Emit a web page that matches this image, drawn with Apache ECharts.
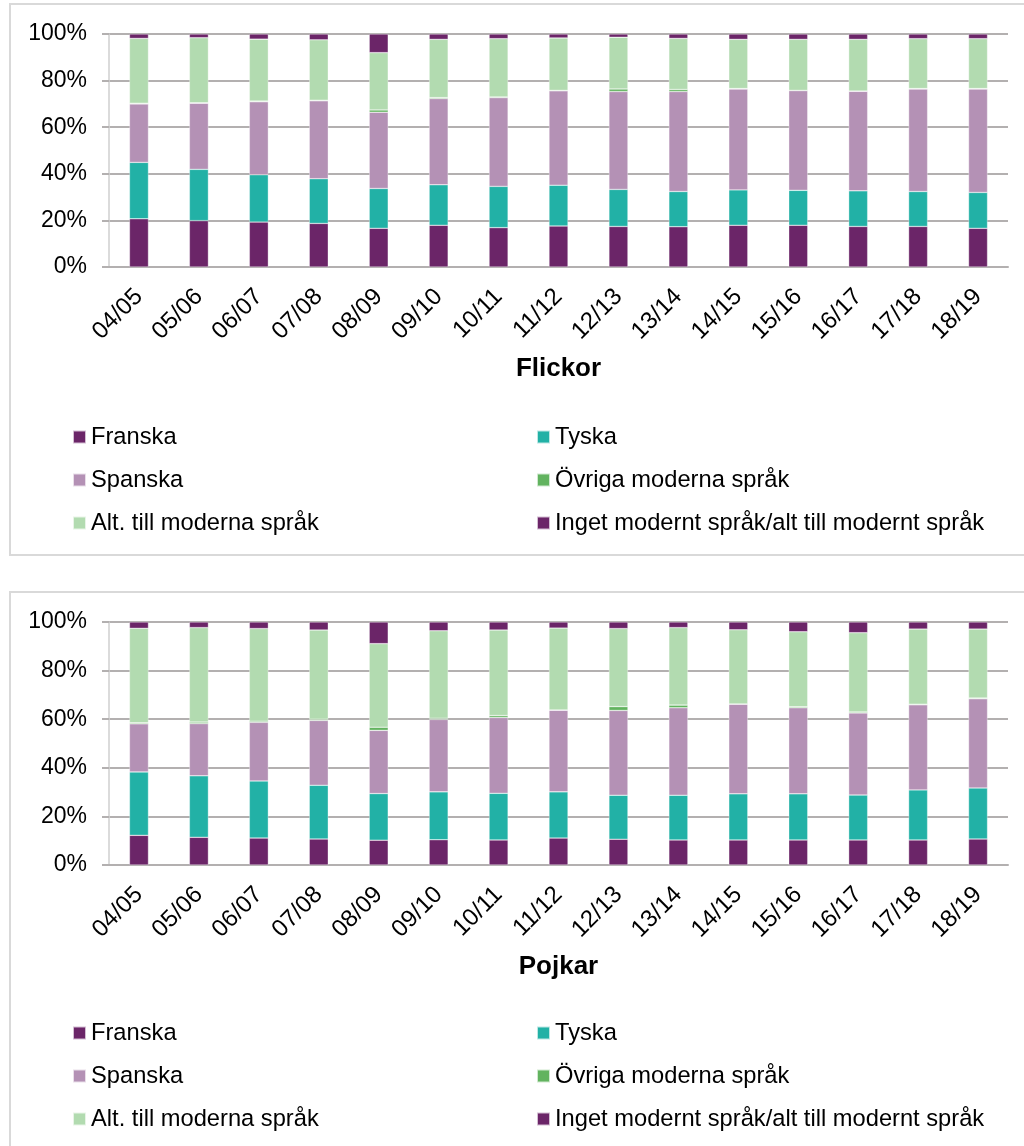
<!DOCTYPE html>
<html>
<head>
<meta charset="utf-8">
<script src="https://cdn.jsdelivr.net/npm/echarts@6/dist/echarts.min.js"></script>
<style>
html,body{margin:0;padding:0;background:#fff;}
#c{width:1024px;height:1146px;}
</style>
</head>
<body>
<div id="c"></div>
<script>
const categories = ['04/05','05/06','06/07','07/08','08/09','09/10','10/11','11/12','12/13','13/14','14/15','15/16','16/17','17/18','18/19'];
const yTicks = [0, 20, 40, 60, 80, 100];
const seriesNames = ['Franska','Tyska','Spanska','Övriga moderna språk','Alt. till moderna språk','Inget modernt språk/alt till modernt språk'];
const panelTitles = ['Flickor','Pojkar'];

// Flickor (percent)
const franskaF = [20.7,19.9,19.3,18.7,16.6,17.9,16.9,17.6,17.4,17.3,17.9,17.9,17.4,17.4,16.6];
const tyskaF   = [24.2,22.0,20.3,19.2,17.1,17.4,17.7,17.5,15.9,15.1,15.2,15.0,15.3,15.0,15.4];
const spanskaF = [25.1,28.4,31.3,33.4,32.7,37.0,38.1,40.5,42.0,42.9,43.3,42.8,42.7,44.0,44.4];
const ovrigaF  = [0.3,0.2,0.3,0.3,1.0,0.4,0.3,0.2,1.1,0.9,0.2,0.1,0.1,0.2,0.2];
const altF     = [27.8,27.9,26.6,25.9,24.6,25.0,25.0,22.5,22.2,21.9,21.1,21.9,22.2,21.4,21.4];
const ingetF   = [1.9,1.6,2.2,2.5,8.0,2.3,2.0,1.7,1.4,1.9,2.3,2.3,2.3,2.0,2.0];

// Pojkar (percent)
const franskaP = [12.2,11.4,11.1,10.7,10.2,10.4,10.3,11.1,10.6,10.3,10.3,10.3,10.3,10.3,10.7];
const tyskaP   = [26.1,25.3,23.5,22.1,19.2,19.7,19.2,19.0,18.1,18.4,19.0,19.0,18.5,20.6,21.0];
const spanskaP = [19.8,21.5,24.1,26.7,26.0,29.8,31.2,33.6,34.9,36.0,36.9,35.4,33.8,35.0,36.7];
const ovrigaP  = [0.4,0.6,0.5,0.5,1.3,0.5,0.8,0.1,1.6,1.1,0.1,0.4,0.4,0.3,0.3];
const altP     = [38.9,38.9,38.1,36.7,34.4,36.0,35.2,33.7,32.1,31.9,30.5,30.9,32.6,30.9,28.4];
const ingetP   = [2.6,2.3,2.7,3.3,8.9,3.6,3.3,2.5,2.7,2.3,3.2,4.0,4.4,2.9,2.9];

const colors = ['#6B2568','#22B1A6','#B491B5','#62B35F','#B2DBB0','#6B2568'];
const FONT = '"Liberation Sans", Arial, sans-serif';

const dataF = [franskaF, tyskaF, spanskaF, ovrigaF, altF, ingetF];
const dataP = [franskaP, tyskaP, spanskaP, ovrigaP, altP, ingetP];

function makeSeries(arrs, idx) {
  return arrs.map((d, i) => ({
    name: seriesNames[i],
    type: 'bar',
    stack: 's' + idx,
    xAxisIndex: idx,
    yAxisIndex: idx,
    barWidth: 19,
    data: d,
    itemStyle: { color: colors[i], borderColor: 'rgba(255,255,255,0.7)', borderWidth: 0.5 },
    emphasis: { disabled: true },
    animation: false
  }));
}

function xAxisDef(idx) {
  return {
    type: 'category', gridIndex: idx, data: categories,
    name: panelTitles[idx], nameLocation: 'middle', nameGap: 89,
    nameTextStyle: { fontFamily: FONT, fontSize: 26, fontWeight: 'bold', color: '#000' },
    axisLine: { lineStyle: { color: '#b3b0b0', width: 2 } },
    axisTick: { show: false },
    axisLabel: { rotate: 45, fontFamily: FONT, fontSize: 24, color: '#000', margin: 26, interval: 0 }
  };
}
function yAxisDef(idx) {
  return {
    type: 'value', gridIndex: idx, min: 0, max: 100, interval: 20,
    axisLine: { show: true, lineStyle: { color: '#cfcfcf', width: 1.5 } },
    axisTick: { show: true, length: 7, lineStyle: { color: '#b3b0b0', width: 2 } },
    axisLabel: { fontFamily: FONT, fontSize: 23, color: '#000', margin: 22,
      formatter: v => (yTicks.indexOf(v) >= 0 ? v + '%' : '') },
    splitLine: { lineStyle: { color: '#b3b0b0', width: 2 } }
  };
}
function legendDef(left, top, names) {
  return {
    orient: 'vertical', left: left, top: top, padding: 0,
    itemWidth: 13, itemHeight: 13, itemGap: 19, icon: 'rect',
    selectedMode: false,
    textStyle: { fontFamily: FONT, fontSize: 23.7, color: '#000', lineHeight: 24 },
    data: names
  };
}

const chart = echarts.init(document.getElementById('c'), null, { renderer: 'canvas' });
chart.setOption({
  animation: false,
  backgroundColor: '#fff',
  graphic: [
    { type: 'rect', shape: { x: 10, y: 4, width: 1030, height: 551 }, style: { fill: 'none', stroke: '#d9d9d9', lineWidth: 2 }, silent: true, z: -1 },
    { type: 'rect', shape: { x: 10, y: 592, width: 1030, height: 570 }, style: { fill: 'none', stroke: '#d9d9d9', lineWidth: 2 }, silent: true, z: -1 }
  ],
  grid: [
    { left: 109, right: 16, top: 34, height: 233 },
    { left: 109, right: 16, top: 622, height: 243 }
  ],
  xAxis: [xAxisDef(0), xAxisDef(1)],
  yAxis: [yAxisDef(0), yAxisDef(1)],
  legend: [
    legendDef(72, 425, [seriesNames[0], seriesNames[2], seriesNames[4]]),
    legendDef(536, 425, [seriesNames[1], seriesNames[3], seriesNames[5]]),
    legendDef(72, 1021, [seriesNames[0], seriesNames[2], seriesNames[4]]),
    legendDef(536, 1021, [seriesNames[1], seriesNames[3], seriesNames[5]])
  ],
  series: makeSeries(dataF, 0).concat(makeSeries(dataP, 1))
});
</script>
</body>
</html>
